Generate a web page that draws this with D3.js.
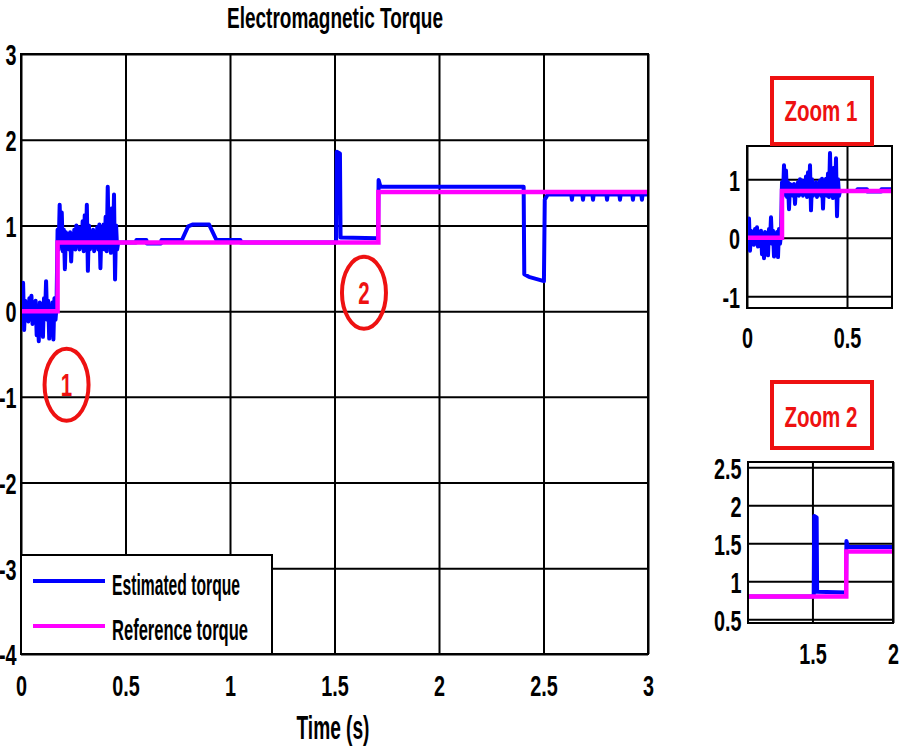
<!DOCTYPE html>
<html>
<head>
<meta charset="utf-8">
<script src="https://cdn.jsdelivr.net/npm/d3@7"></script>
<style>
  body { margin: 0; background: #fff; }
  svg { display: block; }
</style>
</head>
<body>
<svg id="chart" width="904" height="748"></svg>
<script>
// estimated torque (blue)
const estTime = [
  0, 0.005, 0.01, 0.015, 0.02, 0.025, 0.03, 0.035, 0.04, 0.045, 0.05, 0.055, 0.06, 0.065, 0.07, 0.075, 0.08, 0.085,
  0.09, 0.095, 0.1, 0.105, 0.11, 0.115, 0.12, 0.125, 0.13, 0.135, 0.14, 0.145, 0.15, 0.155, 0.16, 0.165, 0.17,
  0.175, 0.18, 0.185, 0.19, 0.195, 0.2, 0.205, 0.21, 0.215, 0.22, 0.225, 0.23, 0.235, 0.24, 0.245, 0.25, 0.255,
  0.26, 0.265, 0.27, 0.275, 0.28, 0.285, 0.29, 0.295, 0.3, 0.305, 0.31, 0.315, 0.32, 0.325, 0.33, 0.335, 0.34,
  0.345, 0.35, 0.355, 0.36, 0.365, 0.37, 0.375, 0.38, 0.385, 0.39, 0.395, 0.4, 0.405, 0.41, 0.415, 0.42, 0.425,
  0.43, 0.435, 0.44, 0.445, 0.45, 0.455, 0.46, 0.465,
  0.47, 0.55, 0.552, 0.6, 0.602, 0.67, 0.672, 0.77, 0.8, 0.82, 0.9, 0.935, 1.05, 1.052,
  1.508, 1.511, 1.526, 1.529, 1.708, 1.711, 1.72, 2.405, 2.408, 2.43, 2.502, 2.506, 2.52,
  2.633, 2.636, 2.639, 2.686, 2.689, 2.692, 2.734, 2.737, 2.74, 2.801, 2.804, 2.807,
  2.863, 2.866, 2.869, 2.925, 2.928, 2.931, 2.968, 2.971, 2.974, 3
];
const estTorque = [
  0.05, -0.10, 0.33, -0.22, 0.12, -0.08, 0.10, -0.12, 0.15, -0.05, 0.18, -0.15, 0.10, -0.10, 0.12, -0.28, 0.05, -0.35,
  0.10, -0.12, 0.08, -0.30, 0.15, -0.05, 0.35, -0.10, 0.12, -0.32, 0.05, -0.12, 0.10, -0.33, 0.15, -0.10, 0.05,
  0.95, 0.72, 1.24, 0.80, 1.15, 0.70, 0.95, 0.49, 0.92, 0.75, 0.90, 0.72, 0.92, 0.58, 0.88, 0.75, 0.95,
  0.72, 1.00, 0.78, 0.98, 0.72, 0.93, 0.75, 1.05, 0.70, 1.12, 0.72, 1.24, 0.47, 1.00, 0.72, 0.90, 0.78,
  0.95, 0.70, 0.92, 0.76, 0.98, 0.72, 1.01, 0.50, 0.96, 0.74, 1.01, 0.72, 1.10, 0.70, 1.45, 0.75, 1.05,
  0.68, 1.20, 0.72, 1.36, 0.37, 1.00, 0.72, 0.80,
  0.80, 0.80, 0.83, 0.83, 0.79, 0.79, 0.83, 0.83, 0.99, 1.01, 1.01, 0.83, 0.83, 0.80,
  0.80, 1.86, 1.84, 0.86, 0.85, 1.53, 1.45, 1.45, 0.43, 0.40, 0.35, 1.30, 1.36,
  1.36, 1.30, 1.36, 1.36, 1.30, 1.36, 1.36, 1.30, 1.36, 1.36, 1.30, 1.36,
  1.36, 1.30, 1.36, 1.36, 1.30, 1.36, 1.36, 1.30, 1.36, 1.36
];
// reference torque (magenta), a step signal
const refTime = [0, 0.175, 1.71, 3];
const refTorque = [0, 0.8, 1.39, 1.39];

const mainXTicks = [0, 0.5, 1, 1.5, 2, 2.5, 3];
const mainYTicks = [-4, -3, -2, -1, 0, 1, 2, 3];
const zoom1XTicks = [0, 0.5];
const zoom1YTicks = [-1, 0, 1];
const zoom2XTicks = [1.5, 2];
const zoom2YTicks = [0.5, 1, 1.5, 2, 2.5];

const seriesNames = ["Estimated torque", "Reference torque"];
const seriesColors = ["#0000ff", "#ff00ff"];
const markerLabels = ["1", "2"];
const markerTime = [0.218, 1.641];
const markerTorque = [-0.86, 0.215];

const FONT = "'Liberation Sans', Arial, sans-serif";
const SX = 0.66;
const RED = "#ee1111";

const svg = d3.select("#chart");
const est = estTime.map((t, i) => ({ t, v: estTorque[i] }));
const ref = refTime.map((t, i) => ({ t, v: refTorque[i] }));

function panel(xs, ys, xt, yt, id, xPad, yGap) {
  const [x0, x1] = xs.range();
  const [y0, y1] = ys.range();
  const g = svg.append("g");

  svg.append("clipPath").attr("id", id)
    .append("rect").attr("x", x0).attr("y", y1).attr("width", x1 - x0).attr("height", y0 - y1);

  const gx = g.append("g").attr("transform", `translate(0,${y0})`)
    .call(d3.axisBottom(xs).tickValues(xt).tickSize(-(y0 - y1)).tickPadding(xPad).tickFormat(d => d));
  const gy = g.append("g").attr("transform", `translate(${x0},0)`)
    .call(d3.axisLeft(ys).tickValues(yt).tickSize(-(x1 - x0)).tickPadding(yGap / SX).tickFormat(d => d));

  [gx, gy].forEach(a => {
    a.select(".domain").remove();
    a.selectAll(".tick line").attr("stroke", "#000").attr("stroke-width", 2);
    a.selectAll(".tick text")
      .attr("fill", "#000")
      .attr("transform", `scale(${SX},1)`)
      .style("font", `bold 30px ${FONT}`);
  });
  gy.selectAll(".tick text").attr("dy", "0.36em");

  const line = d3.line().x(d => xs(d.t)).y(d => ys(d.v));
  const data = g.append("g").attr("clip-path", `url(#${id})`);
  data.append("path").datum(est)
    .attr("d", line)
    .attr("fill", "none")
    .attr("stroke", seriesColors[0])
    .attr("stroke-width", 4)
    .attr("stroke-linejoin", "round");
  data.append("path").datum(ref)
    .attr("d", line.curve(d3.curveStepAfter))
    .attr("fill", "none")
    .attr("stroke", seriesColors[1])
    .attr("stroke-width", 4.5);

  g.append("rect")
    .attr("x", x0).attr("y", y1)
    .attr("width", x1 - x0).attr("height", y0 - y1)
    .attr("fill", "none").attr("stroke", "#000").attr("stroke-width", 2);
  return g;
}

function squished(x, y, text, width, size, color, anchor) {
  return svg.append("text")
    .attr("x", x).attr("y", y)
    .attr("text-anchor", anchor || "start")
    .attr("textLength", width)
    .attr("lengthAdjust", "spacingAndGlyphs")
    .attr("fill", color || "#000")
    .style("font", `bold ${size}px ${FONT}`)
    .text(text);
}

// main plot
const x = d3.scaleLinear().domain([0, 3]).range([21, 648]);
const y = d3.scaleLinear().domain([-4, 3]).range([654, 54]);
panel(x, y, mainXTicks, mainYTicks, "clipMain", 21, 4.5);

squished(335, 28, "Electromagnetic Torque", 216, 29, "#000", "middle");
squished(333, 739, "Time (s)", 73, 33, "#000", "middle");

// legend
svg.append("rect").attr("x", 21).attr("y", 555).attr("width", 251).attr("height", 99)
  .attr("fill", "#fff").attr("stroke", "#000").attr("stroke-width", 2);
seriesNames.forEach((name, i) => {
  const ly = 581 + i * 45;
  svg.append("line").attr("x1", 33).attr("x2", 105).attr("y1", ly).attr("y2", ly)
    .attr("stroke", seriesColors[i]).attr("stroke-width", 4);
  squished(112, ly + 14, name, i === 0 ? 128 : 136, 29);
});

// annotations
markerLabels.forEach((lab, i) => {
  const cx = x(markerTime[i]), cy = y(markerTorque[i]);
  svg.append("ellipse").attr("cx", cx).attr("cy", cy).attr("rx", 22).attr("ry", 36)
    .attr("fill", "none").attr("stroke", RED).attr("stroke-width", 4);
  svg.append("text").attr("x", cx).attr("y", cy + 11)
    .attr("text-anchor", "middle")
    .attr("transform", `translate(${cx * (1 - SX)},0) scale(${SX},1)`)
    .attr("fill", RED)
    .style("font", `bold 31px ${FONT}`)
    .text(lab);
});

// zoom 1
const xz1 = d3.scaleLinear().domain([0, 0.725]).range([747, 892]);
const yz1 = d3.scaleLinear().domain([-1.2, 1.57]).range([308, 146]);
panel(xz1, yz1, zoom1XTicks, zoom1YTicks, "clipZ1", 19, 7);

// zoom 2
const xz2 = d3.scaleLinear().domain([1.1, 2]).range([748, 893]);
const yz2 = d3.scaleLinear().domain([0.45, 2.57]).range([623, 462]);
panel(xz2, yz2, zoom2XTicks, zoom2YTicks, "clipZ2", 20, 6.5);

[["Zoom 1", 78, 120.5], ["Zoom 2", 382, 426.5]].forEach(([lab, top, base]) => {
  svg.append("rect").attr("x", 772).attr("y", top).attr("width", 100).attr("height", 66)
    .attr("fill", "none").attr("stroke", RED).attr("stroke-width", 4);
  squished(821, base, lab, 73, 30, RED, "middle");
});
</script>
</body>
</html>
